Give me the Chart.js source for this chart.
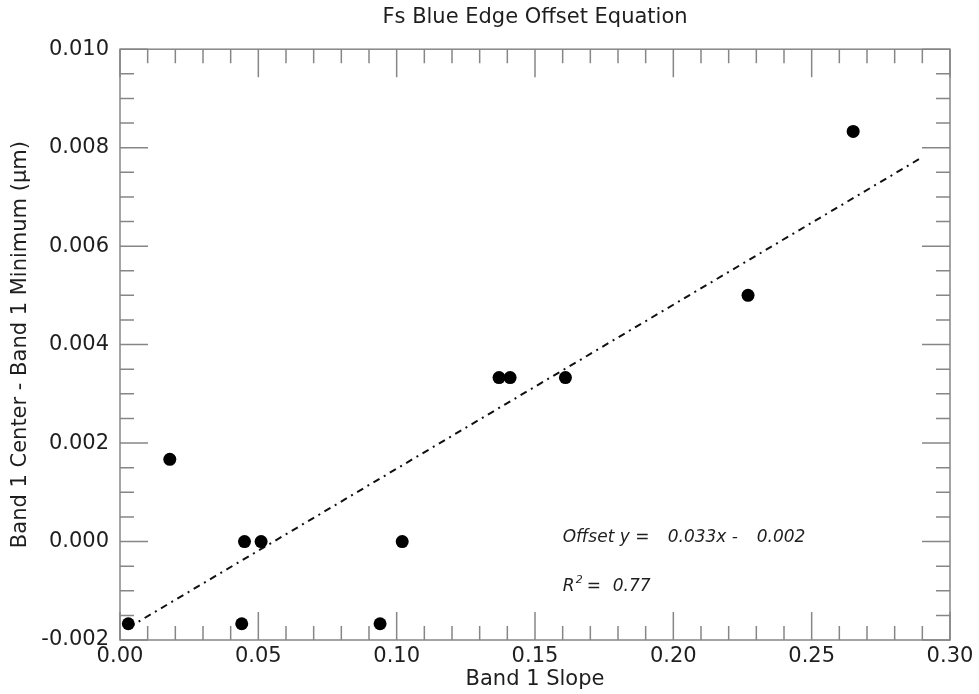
<!DOCTYPE html>
<html>
<head>
<meta charset="utf-8">
<title>Fs Blue Edge Offset Equation</title>
<script src="https://cdn.jsdelivr.net/npm/chart.js@4.4.1/dist/chart.umd.min.js"></script>
<style>
  html, body { margin: 0; padding: 0; background: #fff; }
  #wrap { width: 979px; height: 694px; }
</style>
</head>
<body>
<div id="wrap"><canvas id="chart"></canvas></div>
<script>
// band 1 slope vs. (band 1 center - band 1 minimum), one entry per sample
const slopeValues = [0.003, 0.018, 0.044, 0.045, 0.051, 0.094, 0.102, 0.137, 0.141, 0.161, 0.227, 0.265];
const offsetValues = [-0.00167, 0.00167, -0.00167, 0.0, 0.0, -0.00167, 0.0, 0.00333, 0.00333, 0.00333, 0.005, 0.00833];

// least squares fit
const fitSlope = 0.0333;
const fitIntercept = -0.00185;
const fitRSquared = 0.77;
const fitRange = [0.003, 0.29];

// axis ranges
const xRange = [0, 0.30];
const xStep = 0.05;
const xMinorPerMajor = 5;
const yRange = [-0.002, 0.010];
const yStep = 0.002;
const yMinorPerMajor = 4;

const FONT = 'DejaVu Sans';
const AXIS_GREY = '#868686';
const TEXT = '#1e1e1e';

const fitPoints = fitRange.map((x) => ({ x: x, y: fitSlope * x + fitIntercept }));
const samplePoints = slopeValues.map((x, i) => ({ x: x, y: offsetValues[i] }));

// box round the plot with inward ticks on all four sides
const frame = {
  id: 'frame',
  beforeDatasetsDraw(chart) {
    const { ctx, chartArea: { left, right, top, bottom }, scales: { x, y } } = chart;
    ctx.save();
    ctx.strokeStyle = AXIS_GREY;
    ctx.lineWidth = 1.5;
    ctx.strokeRect(left, top, right - left, bottom - top);
    ctx.beginPath();
    const xCount = Math.round((xRange[1] - xRange[0]) / xStep) * xMinorPerMajor;
    for (let i = 0; i <= xCount; i++) {
      const px = x.getPixelForValue(xRange[0] + (i * xStep) / xMinorPerMajor);
      const len = i % xMinorPerMajor === 0 ? 28 : 14;
      ctx.moveTo(px, bottom);
      ctx.lineTo(px, bottom - len);
      ctx.moveTo(px, top);
      ctx.lineTo(px, top + len);
    }
    const yCount = Math.round((yRange[1] - yRange[0]) / yStep) * yMinorPerMajor;
    for (let i = 0; i <= yCount; i++) {
      const py = y.getPixelForValue(yRange[0] + (i * yStep) / yMinorPerMajor);
      const len = i % yMinorPerMajor === 0 ? 28 : 14;
      ctx.moveTo(left, py);
      ctx.lineTo(left + len, py);
      ctx.moveTo(right, py);
      ctx.lineTo(right - len, py);
    }
    ctx.stroke();
    ctx.restore();
  },
};

// fit equation and R^2 written inside the plot
const fitLabel = {
  id: 'fitLabel',
  afterDatasetsDraw(chart) {
    const { ctx, scales: { x, y } } = chart;
    const px = x.getPixelForValue(0.16);
    const py1 = y.getPixelForValue(0.0);
    const py2 = y.getPixelForValue(-0.001);
    const sign = fitIntercept < 0 ? '-' : '+';
    ctx.save();
    ctx.fillStyle = TEXT;
    ctx.textBaseline = 'alphabetic';
    ctx.textAlign = 'left';
    ctx.font = `italic 17px "${FONT}"`;
    ctx.fillText('Offset y =', px, py1);
    ctx.fillText(`${fitSlope.toFixed(3)}x ${sign}`, px + 105, py1);
    ctx.fillText(Math.abs(fitIntercept).toFixed(3), px + 194, py1);
    ctx.fillText('R', px, py2);
    ctx.fillText('=', px + 24, py2);
    ctx.fillText(fitRSquared.toFixed(2), px + 50, py2);
    ctx.font = `italic 11px "${FONT}"`;
    ctx.fillText('2', px + 13, py2 - 8);
    ctx.restore();
  },
};

new Chart(document.getElementById('chart'), {
  type: 'scatter',
  data: {
    datasets: [
      {
        label: 'samples',
        data: samplePoints,
        pointRadius: 6.5,
        pointHoverRadius: 6.5,
        pointBackgroundColor: '#000',
        pointBorderColor: '#000',
        pointBorderWidth: 0,
        order: 1,
      },
      {
        type: 'line',
        label: 'fit',
        data: fitPoints,
        borderColor: '#111',
        borderWidth: 2,
        borderDash: [7, 5, 2, 5],
        pointRadius: 0,
        fill: false,
        order: 2,
      },
    ],
  },
  options: {
    responsive: true,
    maintainAspectRatio: false,
    animation: false,
    events: [],
    layout: { padding: { top: 0, right: 29, left: 0, bottom: 0 } },
    plugins: {
      legend: { display: false },
      tooltip: { enabled: false },
      title: {
        display: true,
        fullSize: false,
        text: 'Fs Blue Edge Offset Equation',
        color: TEXT,
        font: { family: FONT, size: 21, weight: 'normal' },
        padding: { top: 5, bottom: 19 },
      },
    },
    scales: {
      x: {
        type: 'linear',
        min: xRange[0],
        max: xRange[1],
        grid: { display: false, drawTicks: false },
        border: { display: false },
        ticks: {
          stepSize: xStep,
          color: TEXT,
          padding: 4,
          maxRotation: 0,
          font: { family: FONT, size: 21 },
          callback: (v) => v.toFixed(2),
        },
        title: {
          display: true,
          text: 'Band 1 Slope',
          color: TEXT,
          font: { family: FONT, size: 21 },
          padding: { top: 0, bottom: 2 },
        },
        afterFit(scale) { scale.height = 54; },
      },
      y: {
        type: 'linear',
        min: yRange[0],
        max: yRange[1],
        grid: { display: false, drawTicks: false },
        border: { display: false },
        ticks: {
          stepSize: yStep,
          color: TEXT,
          padding: 11,
          font: { family: FONT, size: 21 },
          callback: (v) => v.toFixed(3),
        },
        title: {
          display: true,
          text: 'Band 1 Center - Band 1 Minimum (\u03bcm)',
          color: TEXT,
          font: { family: FONT, size: 21 },
          padding: { top: 8, bottom: 0 },
        },
        afterFit(scale) { scale.width = 120; },
      },
    },
  },
  plugins: [frame, fitLabel],
});
</script>
</body>
</html>
